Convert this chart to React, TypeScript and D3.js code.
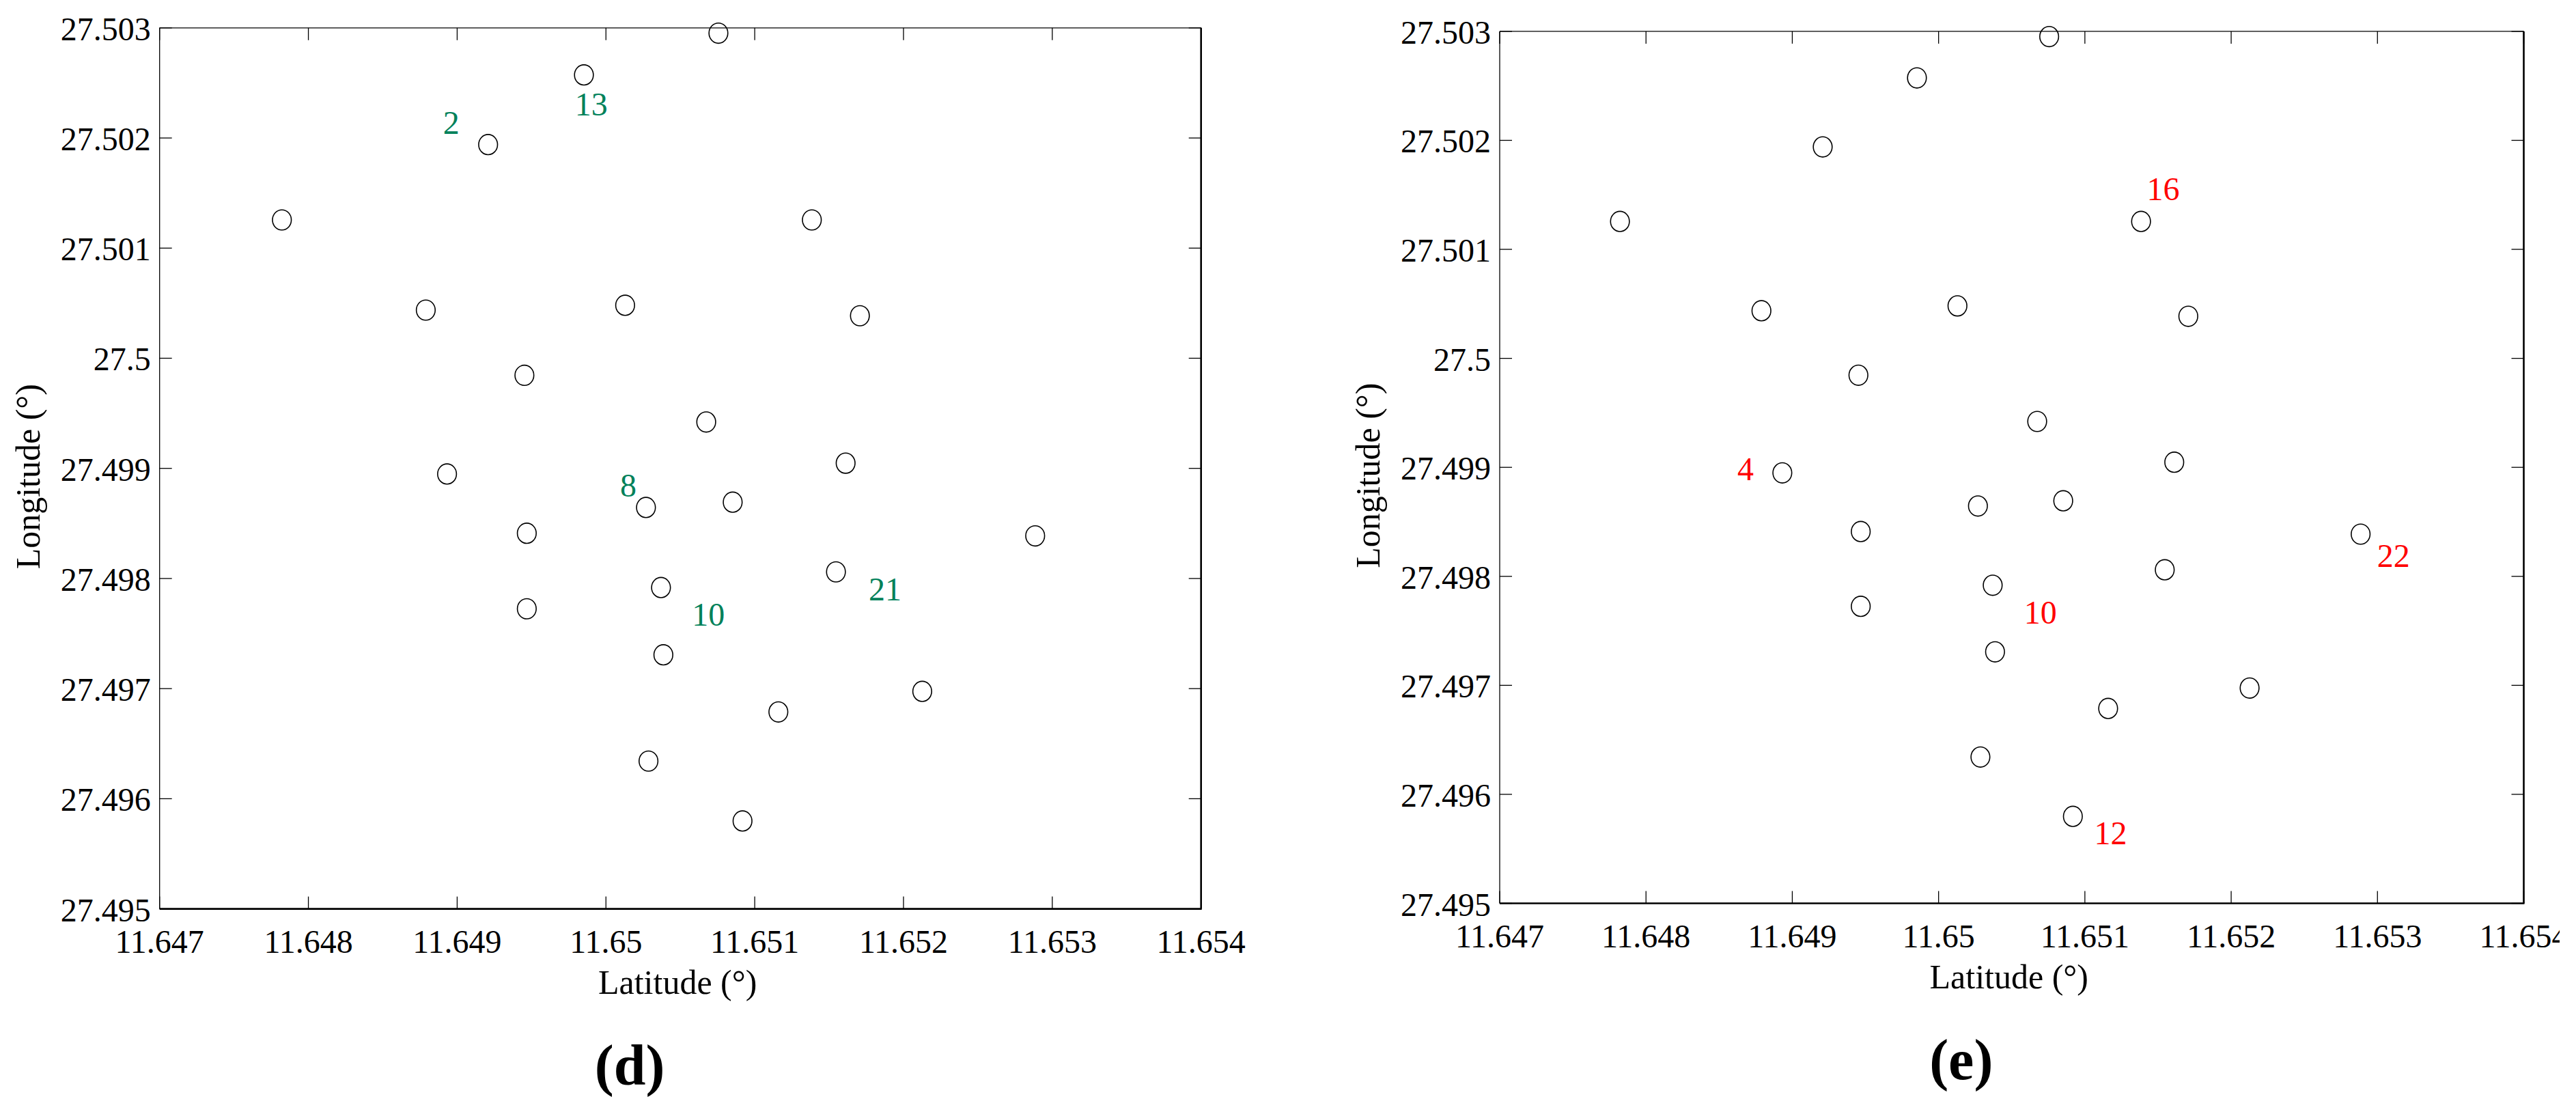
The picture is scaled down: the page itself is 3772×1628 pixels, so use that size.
import React from "react";
import * as d3 from "d3";

// ---- data ----
const latitudes = [
  11.647822, 11.649852, 11.649208, 11.648789, 11.650129, 11.649452,
  11.648932, 11.650269, 11.649468, 11.650756, 11.651384, 11.651707,
  11.650674, 11.651611, 11.650852, 11.652885, 11.649468, 11.65037,
  11.650386, 11.650286, 11.651546, 11.652126, 11.651159, 11.650918,
];
const longitudes = [
  27.501256, 27.502573, 27.50194, 27.500437, 27.500481, 27.499845,
  27.498949, 27.498645, 27.498411, 27.502952, 27.501256, 27.500386,
  27.499421, 27.499047, 27.498693, 27.498387, 27.497725, 27.497918,
  27.497307, 27.496342, 27.49806, 27.496975, 27.496788, 27.495798,
];

const greenLabels = ["2", "13", "8", "10", "21"];
const greenLabelLat = [11.64896, 11.649901, 11.65015, 11.650688, 11.651876];
const greenLabelLon = [27.502139, 27.502304, 27.498842, 27.497671, 27.497902];

const redLabels = ["4", "16", "10", "22", "12"];
const redLabelLat = [11.648681, 11.651535, 11.650696, 11.653109, 11.651176];
const redLabelLon = [27.498981, 27.501553, 27.497668, 27.498186, 27.495644];

const xTicks = [11.647, 11.648, 11.649, 11.65, 11.651, 11.652, 11.653, 11.654];
const yTicks = [27.495, 27.496, 27.497, 27.498, 27.499, 27.5, 27.501, 27.502, 27.503];
const xDomain: [number, number] = [11.647, 11.654];
const yDomain: [number, number] = [27.495, 27.503];

const xLabel = "Latitude (°)";
const yLabel = "Longitude (°)";

const FONT = "'Liberation Serif', 'Times New Roman', serif";
const fmt = (v: number) => String(+v.toFixed(3));

type PanelProps = {
  left: number;
  right: number;
  top: number;
  bottom: number;
  labels: string[];
  labelLat: number[];
  labelLon: number[];
  labelColor: string;
  caption: string;
};

function Panel(p: PanelProps) {
  const x = d3.scaleLinear().domain(xDomain).range([p.left, p.right]);
  const y = d3.scaleLinear().domain(yDomain).range([p.bottom, p.top]);
  const tick = 18;
  const cx = (p.left + p.right) / 2;
  const cy = (p.top + p.bottom) / 2;
  return (
    <g>
      {/* box */}
      <line x1={p.left} x2={p.right} y1={p.top} y2={p.top} stroke="#000" strokeWidth={1.3} />
      <line x1={p.left} x2={p.left} y1={p.top} y2={p.bottom} stroke="#000" strokeWidth={1.3} />
      <line x1={p.left} x2={p.right + 1} y1={p.bottom} y2={p.bottom} stroke="#000" strokeWidth={2.6} />
      <line x1={p.right} x2={p.right} y1={p.top} y2={p.bottom} stroke="#000" strokeWidth={2.6} />
      {/* x ticks */}
      {xTicks.map((t, i) => (
        <g key={"xt" + i}>
          <line x1={x(t)} x2={x(t)} y1={p.bottom} y2={p.bottom - tick} stroke="#000" strokeWidth={1.3} />
          <line x1={x(t)} x2={x(t)} y1={p.top} y2={p.top + tick} stroke="#000" strokeWidth={1.3} />
          <text x={x(t)} y={p.bottom + 64} textAnchor="middle" fontFamily={FONT} fontSize={48} fill="#000">
            {fmt(t)}
          </text>
        </g>
      ))}
      {/* y ticks */}
      {yTicks.map((t, i) => (
        <g key={"yt" + i}>
          <line x1={p.left} x2={p.left + tick} y1={y(t)} y2={y(t)} stroke="#000" strokeWidth={1.3} />
          <line x1={p.right} x2={p.right - tick} y1={y(t)} y2={y(t)} stroke="#000" strokeWidth={1.3} />
          <text x={p.left - 13} y={y(t) + 18} textAnchor="end" fontFamily={FONT} fontSize={48} fill="#000">
            {fmt(t)}
          </text>
        </g>
      ))}
      {/* points */}
      {latitudes.map((lat, i) => (
        <ellipse
          key={"pt" + i}
          cx={x(lat)}
          cy={y(longitudes[i])}
          rx={13.8}
          ry={14.8}
          fill="none"
          stroke="#000"
          strokeWidth={1.6}
        />
      ))}
      {/* labels */}
      {p.labels.map((s, i) => (
        <text
          key={"lb" + i}
          x={x(p.labelLat[i])}
          y={y(p.labelLon[i]) + 16}
          textAnchor="middle"
          fontFamily={FONT}
          fontSize={48}
          fill={p.labelColor}
        >
          {s}
        </text>
      ))}
      {/* axis labels */}
      <text x={cx - 4} y={p.bottom + 124} textAnchor="middle" fontFamily={FONT} fontSize={50} fill="#000">
        {xLabel}
      </text>
      <text
        transform={`translate(${p.left - 176},${cy + 12}) rotate(-90)`}
        textAnchor="middle"
        fontFamily={FONT}
        fontSize={50}
        fill="#000"
      >
        {yLabel}
      </text>
      <text
        x={cx - 74}
        y={p.bottom + 257}
        textAnchor="middle"
        fontFamily={FONT}
        fontSize={84}
        fontWeight="bold"
        fill="#000"
      >
        {p.caption}
      </text>
    </g>
  );
}

export default function App() {
  return (
    <svg
      width={3772}
      height={1628}
      viewBox="0 0 3772 1628"
      style={{ position: "absolute", left: 0, top: 0, background: "#fff" }}
    >
      <defs>
        <clipPath id="pageClip">
          <rect x={0} y={0} width={3748} height={1628} />
        </clipPath>
      </defs>
      <rect x={0} y={0} width={3772} height={1628} fill="#fff" />
      <g clipPath="url(#pageClip)">
        <Panel
          left={233.7}
          right={1758.7}
          top={40.8}
          bottom={1330.6}
          labels={greenLabels}
          labelLat={greenLabelLat}
          labelLon={greenLabelLon}
          labelColor="#00815A"
          caption="(d)"
        />
        <Panel
          left={2196}
          right={3695.5}
          top={45.9}
          bottom={1322.5}
          labels={redLabels}
          labelLat={redLabelLat}
          labelLon={redLabelLon}
          labelColor="#FF0000"
          caption="(e)"
        />
      </g>
    </svg>
  );
}
